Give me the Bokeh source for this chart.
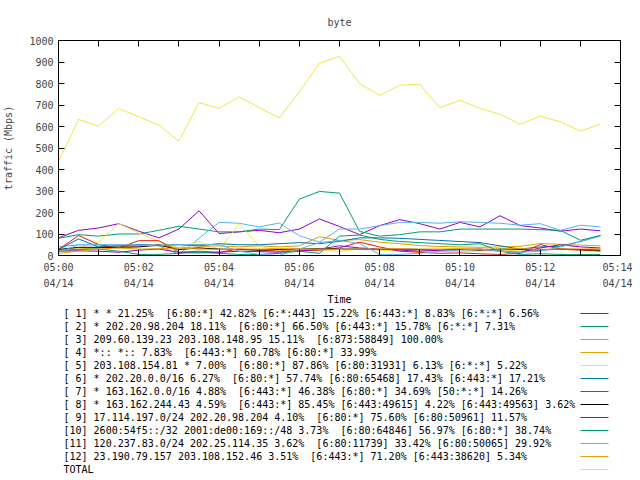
import pandas as pd
from bokeh.plotting import figure
from bokeh.layouts import column
from bokeh.models import Range1d, FixedTicker, LinearAxis, CustomJSTickFormatter
from bokeh.core.properties import value
from bokeh.embed import file_html
from bokeh.resources import INLINE

FONT = "DejaVu Sans Mono"

# sample times: every 30 s from 05:00:00 to 05:13:30 on 04/14
times = pd.date_range("2024-04-14 05:00:00", periods=28, freq="30s")

total = [437, 633, 602, 684, 645, 606, 532, 711, 684, 738, 688, 640, 761, 895,
         926, 800, 745, 792, 796, 688, 722, 684, 657, 610, 648, 622, 579, 610]
s1 = [82, 117, 128, 148, 113, 82, 123, 208, 102, 110, 117, 106, 123, 170,
      135, 97, 139, 167, 148, 123, 154, 133, 185, 139, 128, 113, 123, 115]
s2 = [80, 97, 90, 100, 100, 117, 136, 123, 110, 110, 123, 120, 262, 298,
      290, 112, 90, 97, 110, 110, 123, 123, 123, 123, 120, 117, 71, 93]
s3 = [40, 50, 50, 48, 50, 45, 5, 80, 154, 150, 133, 151, 92, 62,
      123, 123, 139, 154, 154, 150, 157, 154, 150, 141, 148, 117, 141, 133]
s4 = [20, 30, 35, 40, 45, 50, 35, 40, 45, 40, 45, 40, 45, 87,
      70, 74, 62, 55, 46, 42, 40, 38, 40, 42, 56, 52, 48, 45]
s5 = [20, 35, 62, 148, 105, 66, 35, 66, 28, 148, 43, 25, 20, 25,
      20, 30, 25, 20, 22, 20, 18, 20, 22, 25, 30, 28, 25, 25]
s6 = [28, 77, 40, 45, 50, 48, 50, 45, 55, 50, 50, 55, 60, 55,
      66, 82, 82, 80, 75, 70, 65, 60, 45, 30, 40, 43, 65, 93]
s7 = [28, 93, 51, 35, 69, 69, 15, 20, 15, 30, 25, 20, 22, 25,
      36, 62, 40, 20, 15, 10, 12, 8, 5, 10, 51, 30, 25, 20]
s8 = [28, 38, 38, 38, 40, 48, 28, 35, 30, 28, 25, 28, 30, 32,
      30, 30, 28, 30, 28, 25, 28, 25, 30, 28, 25, 30, 28, 25]
s9 = [20, 22, 20, 15, 25, 30, 15, 12, 15, 20, 18, 15, 20, 30,
      45, 35, 30, 25, 20, 25, 28, 30, 20, 15, 35, 50, 40, 35]
s10 = [25, 28, 30, 20, 5, 5, 10, 15, 10, 5, 5, 10, 20, 10,
       90, 95, 75, 65, 60, 55, 50, 55, 20, 5, 8, 5, 5, 5]
s11 = [15, 50, 50, 50, 48, 45, 50, 51, 50, 20, 5, 0, 30, 60,
       70, 55, 5, 5, 10, 20, 25, 30, 20, 15, 20, 40, 65, 90]
s12 = [10, 20, 30, 35, 30, 32, 35, 30, 28, 30, 30, 32, 30, 30,
       28, 30, 30, 32, 30, 30, 32, 30, 30, 32, 28, 30, 30, 32]

series = [s1, s2, s3, s4, s5, s6, s7, s8, s9, s10, s11, s12, total]
colors = ["#9400d3", "#009e73", "#56b4e9", "#e69f00", "#f0e442", "#0072b2",
          "#e51e10", "#000000", "#9400d3", "#009e73", "#56b4e9", "#e69f00",
          "#f0e442"]
labels = [
    "[ 1] * * 21.25%  [6:80:*] 42.82% [6:*:443] 15.22% [6:443:*] 8.83% [6:*:*] 6.56%",
    "[ 2] * 202.20.98.204 18.11%  [6:80:*] 66.50% [6:443:*] 15.78% [6:*:*] 7.31%",
    "[ 3] 209.60.139.23 203.108.148.95 15.11%  [6:873:58849] 100.00%",
    "[ 4] *:: *:: 7.83%  [6:443:*] 60.78% [6:80:*] 33.99%",
    "[ 5] 203.108.154.81 * 7.00%  [6:80:*] 87.86% [6:80:31931] 6.13% [6:*:*] 5.22%",
    "[ 6] * 202.20.0.0/16 6.27%  [6:80:*] 57.74% [6:80:65468] 17.43% [6:443:*] 17.21%",
    "[ 7] * 163.162.0.0/16 4.88%  [6:443:*] 46.38% [6:80:*] 34.69% [50:*:*] 14.26%",
    "[ 8] * 163.162.244.43 4.59%  [6:443:*] 85.45% [6:443:49615] 4.22% [6:443:49563] 3.62%",
    "[ 9] 17.114.197.0/24 202.20.98.204 4.10%  [6:80:*] 75.60% [6:80:50961] 11.57%",
    "[10] 2600:54f5::/32 2001:de00:169::/48 3.73%  [6:80:64846] 56.97% [6:80:*] 38.74%",
    "[11] 120.237.83.0/24 202.25.114.35 3.62%  [6:80:11739] 33.42% [6:80:50065] 29.92%",
    "[12] 23.190.79.157 203.108.152.46 3.51%  [6:443:*] 71.20% [6:443:38620] 5.34%",
    "TOTAL",
]
labels = [s.replace("  ", "\u00a0 ") for s in labels]
x_title = "Time"

tick_minutes = list(range(0, 15))
tick_labels = ["05:00\n04/14", "", "05:02\n04/14", "", "05:04\n04/14", "",
               "05:06\n04/14", "", "05:08\n04/14", "", "05:10\n04/14", "",
               "05:12\n04/14", "", "05:14\n04/14"]
y_ticks = list(range(0, 1001, 100))

t0 = times[0]
x_ticks = [(t0 + pd.Timedelta(minutes=m)).value / 1e6 for m in tick_minutes]

W = 632
BL, BR = 58, 12
MH = 292
p = figure(width=W, height=MH, x_axis_type="datetime",
           x_range=Range1d(t0, t0 + pd.Timedelta(minutes=14)),
           y_range=Range1d(0, 1000), output_backend="svg",
           toolbar_location=None, min_border_left=BL, min_border_right=BR,
           min_border_top=40, min_border_bottom=MH - 256, title="byte")
p.title.align = "center"
p.title.text_font = FONT
p.title.text_font_size = "10px"
p.title.text_font_style = "normal"
p.title.standoff = 26
p.grid.visible = False
p.outline_line_color = "black"
p.outline_line_alpha = 1.0

xa = p.xaxis[0]
xa.ticker = FixedTicker(ticks=x_ticks, minor_ticks=[])
xa.major_label_overrides = {t: l for t, l in zip(x_ticks, tick_labels)}
ya = p.yaxis[0]
ya.ticker = FixedTicker(ticks=y_ticks, minor_ticks=[])
ya.axis_label = "traffic (Mbps)"
for ax in (xa, ya):
    ax.major_tick_in = 6
    ax.major_tick_out = 0
    ax.minor_tick_line_color = None
    ax.major_label_text_font = FONT
    ax.major_label_text_font_size = "10px"
    ax.axis_label_text_font = FONT
    ax.axis_label_text_font_size = "10px"
    ax.axis_label_text_font_style = "normal"
    ax.axis_line_color = "black"
    ax.major_tick_line_color = "black"
xa.major_label_standoff = 6
xa.major_label_text_line_height = 1.5
ya.major_label_standoff = 5
ya.axis_label_standoff = 12

blank = CustomJSTickFormatter(code="return ''")
top = LinearAxis(ticker=FixedTicker(ticks=x_ticks, minor_ticks=[]), formatter=blank,
                 major_tick_in=6, major_tick_out=0, minor_tick_line_color=None,
                 major_label_standoff=0, axis_line_color="black")
right = LinearAxis(ticker=FixedTicker(ticks=y_ticks, minor_ticks=[]), formatter=blank,
                   major_tick_in=6, major_tick_out=0, minor_tick_line_color=None,
                   major_label_standoff=0, axis_line_color="black")
p.add_layout(top, "above")
p.add_layout(right, "right")

for vals, c in zip(series, colors):
    p.line(times, vals, line_color=c, line_width=1)

# x-axis title and legend block below the chart, in a pixel-like coordinate system
LH = 184
leg = figure(width=W, height=LH, x_range=Range1d(BL, W - BR), y_range=Range1d(LH, 0),
             output_backend="svg", toolbar_location=None, min_border_left=BL,
             min_border_right=BR, min_border_top=0, min_border_bottom=0,
             x_axis_location=None, y_axis_location=None)
leg.grid.visible = False
leg.outline_line_color = None
leg.text(x=[(BL + W - BR) / 2], y=[299 - MH], text=[x_title], text_baseline="middle",
         text_align="center", text_font=value(FONT), text_font_size="10px",
         text_color="black")
rows = [313 - MH + 13 * i for i in range(len(labels))]
leg.text(x=[63] * len(labels), y=rows, text=labels, text_baseline="middle",
         text_align="left", text_font=value(FONT), text_font_size="10px",
         text_color="black")
leg.segment(x0=[580] * len(labels), y0=rows, x1=[608] * len(labels), y1=rows,
            line_color=colors, line_width=1)

layout = column(p, leg, spacing=0)
open("out.html", "w").write(file_html(layout, INLINE))
